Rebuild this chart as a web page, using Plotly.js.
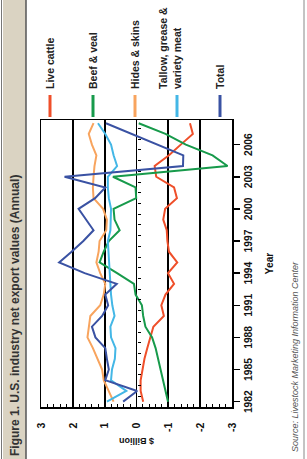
<!DOCTYPE html>
<html><head><meta charset="utf-8">
<script src="https://cdn.plot.ly/plotly-3.0.1.min.js"></script>
<style>
html,body{margin:0;padding:0;width:307px;height:459px;overflow:hidden;background:#fff}
#wrap{position:absolute;left:0;top:0;width:459px;height:307px;transform-origin:0 0;transform:translate(0,459px) rotate(-90deg);}
</style></head><body><div id="wrap"><div id="chart" style="width:459px;height:307px"></div></div>
<script>
const years = [1982,1983,1984,1985,1986,1987,1988,1989,1990,1991,1992,1993,1994,1995,1996,1997,1998,1999,2000,2001,2002,2003,2004,2005,2006,2007,2008];
const liveCattle = [-0.21,-0.13,-0.13,-0.18,-0.25,-0.34,-0.44,-0.53,-0.86,-0.78,-0.91,-1.18,-0.99,-1.28,-1.02,-0.97,-0.95,-0.84,-0.90,-1.27,-1.18,-0.62,-0.57,-1.02,-1.39,-1.77,-1.68];
const beefVeal = [-0.99,-0.91,-0.84,-0.74,-0.67,-0.60,-0.49,-0.28,-0.21,-0.17,0.03,0.08,0.61,1.16,1.03,0.87,0.53,0.69,0.72,0.01,0.03,0.74,-2.86,-2.39,-1.55,-0.91,-0.07];
const hidesSkins = [0.72,0.87,1.03,1.08,1.22,1.37,1.54,1.50,1.45,1.14,1.03,0.98,1.14,1.26,1.19,1.16,0.95,0.93,1.05,1.35,1.37,1.35,1.32,1.26,1.40,1.50,1.35];
const tallowVariety = [0.93,0.32,0.80,0.77,0.68,0.66,0.80,0.82,0.69,0.76,0.80,0.82,0.84,0.87,0.90,0.90,0.82,0.80,0.80,0.87,0.90,0.90,0.61,0.72,0.80,0.98,1.21];
const total = [0.42,-0.02,0.98,0.87,0.93,0.98,1.29,1.40,1.08,0.89,0.98,0.62,1.63,2.43,2.04,1.67,1.35,1.58,1.82,1.30,0.98,2.26,-1.46,-1.47,-0.65,0.15,0.96];

const seriesNames = ["Live cattle","Beef & veal","Hides & skins","Tallow, grease &<br>variety meat","Total"];
const seriesColors = ["#EF4F2A","#179A4B","#F8A45E","#44B7E6","#3A52A3"];
const seriesValues = [liveCattle, beefVeal, hidesSkins, tallowVariety, total];

const tickYears = [1982,1985,1988,1991,1994,1997,2000,2003,2006];
const yearTickText = ["1982","1985","1988","1991","1994","1997","2000","2003","2006"];
const valueTicks = [-3,-2,-1,0,1,2,3];
const valueTickText = ["-3","-2","-1","0","1","2","3"];
const midYearTicks = [1981.5,1982.5,1983.5,1984.5,1985.5,1986.5,1987.5,1988.5,1989.5,1990.5,1991.5,1992.5,1993.5,1994.5,1995.5,1996.5,1997.5,1998.5,1999.5,2000.5,2001.5,2002.5,2003.5,2004.5,2005.5,2006.5,2007.5];

const FONT = "'Liberation Sans', Arial, sans-serif";
const W = 459, H = 307, ML = 52, MR = 120, MT = 41, MB = 75;
const PW = W - ML - MR, PH = H - MT - MB;
const px = u => (u - ML) / PW;            // pixel -> paper x
const py = v => (H - MB - v) / PH;        // pixel -> paper y
const XR = [1981.5, 2008.3];

const traces = seriesValues.map((vals, i) => ({
  type: 'scatter', mode: 'lines', x: years, y: vals, name: seriesNames[i],
  line: {color: seriesColors[i], width: 2}, showlegend: false, hoverinfo: 'skip'
}));
traces.push({type:'scatter', mode:'lines', x:[], y:[], xaxis:'x2', yaxis:'y', showlegend:false, hoverinfo:'skip'});

const legendV = [50, 93, 135, 170, 220];
const legendLineV = [50, 93, 135, 177, 220];
const shapes = [
  {type:'rect', xref:'paper', yref:'paper', x0:px(0), x1:px(W), y0:py(26), y1:py(3), fillcolor:'#DAD3C2', line:{width:0}, layer:'below'},
  {type:'line', xref:'paper', yref:'paper', x0:px(0), x1:px(W), y0:py(26), y1:py(26), line:{color:'#555', width:1.5}},
  {type:'line', xref:'paper', yref:'paper', x0:px(0), x1:px(W), y0:py(1.5), y1:py(1.5), line:{color:'#777', width:1}},
  {type:'line', xref:'paper', yref:'paper', x0:px(0), x1:px(W), y0:py(304), y1:py(304), line:{color:'#888', width:1}}
];
const annotations = [];
seriesNames.forEach((n, i) => {
  shapes.push({type:'line', xref:'paper', yref:'paper', x0:px(342), x1:px(364), y0:py(legendLineV[i]), y1:py(legendLineV[i]), line:{color:seriesColors[i], width:3}});
  annotations.push({xref:'paper', yref:'paper', x:px(368), y:py(legendV[i]), xanchor:'left', yanchor:'middle', align:'left', showarrow:false, text:n, font:{family:FONT, size:10.5, weight:'bold', color:'#222'}});
});
annotations.push({xref:'paper', yref:'paper', x:px(5), y:py(295), xanchor:'left', yanchor:'middle', showarrow:false, text:'Source: Livestock Marketing Information Center', font:{family:FONT, size:9, style:'italic', color:'#555'}});

const layout = {
  width: W, height: H, margin: {l: ML, r: MR, t: MT, b: MB, pad: 0},
  paper_bgcolor: '#fff', plot_bgcolor: '#fff',
  title: {text: 'Figure 1. U.S. industry net export values (Annual)', xref:'container', yref:'container', x: 3/W, xanchor:'left', y: 1 - 15/H, yanchor:'middle', font:{family:FONT, size:12, weight:'bold', color:'#333'}},
  xaxis: {range: XR, tickvals: tickYears, ticktext: yearTickText, tickangle:0, ticks:'outside', ticklen:6, tickwidth:1.5, tickcolor:'#000',
    showline:true, linecolor:'#000', linewidth:1.5, mirror:true, showgrid:false, zeroline:false,
    tickfont:{family:FONT, size:10.3, weight:'bold', color:'#111'},
    title:{text:'Year', standoff:13, font:{family:FONT, size:10.3, weight:'bold', color:'#111'}}},
  xaxis2: {range: XR, overlaying:'x', anchor:'free', position:0.5, side:'bottom', tickvals: midYearTicks, ticks:'outside', ticklen:3, tickwidth:1, tickcolor:'#000',
    showticklabels:false, showline:false, showgrid:false, zeroline:false},
  yaxis: {range:[-3,3], tickvals: valueTicks, ticktext: valueTickText, ticks:'inside', ticklen:4, tickwidth:1, tickcolor:'#000',
    showline:true, linecolor:'#000', linewidth:1.5, mirror:true, showgrid:true, gridcolor:'#000', gridwidth:1.8, zeroline:false,
    minor:{dtick:0.2, ticks:'inside', ticklen:3, tickwidth:1, tickcolor:'#000', showgrid:false},
    ticklabelstandoff: 12,
    tickfont:{family:FONT, size:10.5, weight:'bold', color:'#111'},
    title:{text:'$ Billion', standoff:4, font:{family:FONT, size:9, weight:'bold', color:'#111'}}},
  shapes: shapes, annotations: annotations, showlegend:false
};
Plotly.newPlot('chart', traces, layout, {staticPlot:true, displayModeBar:false});
</script></body></html>
